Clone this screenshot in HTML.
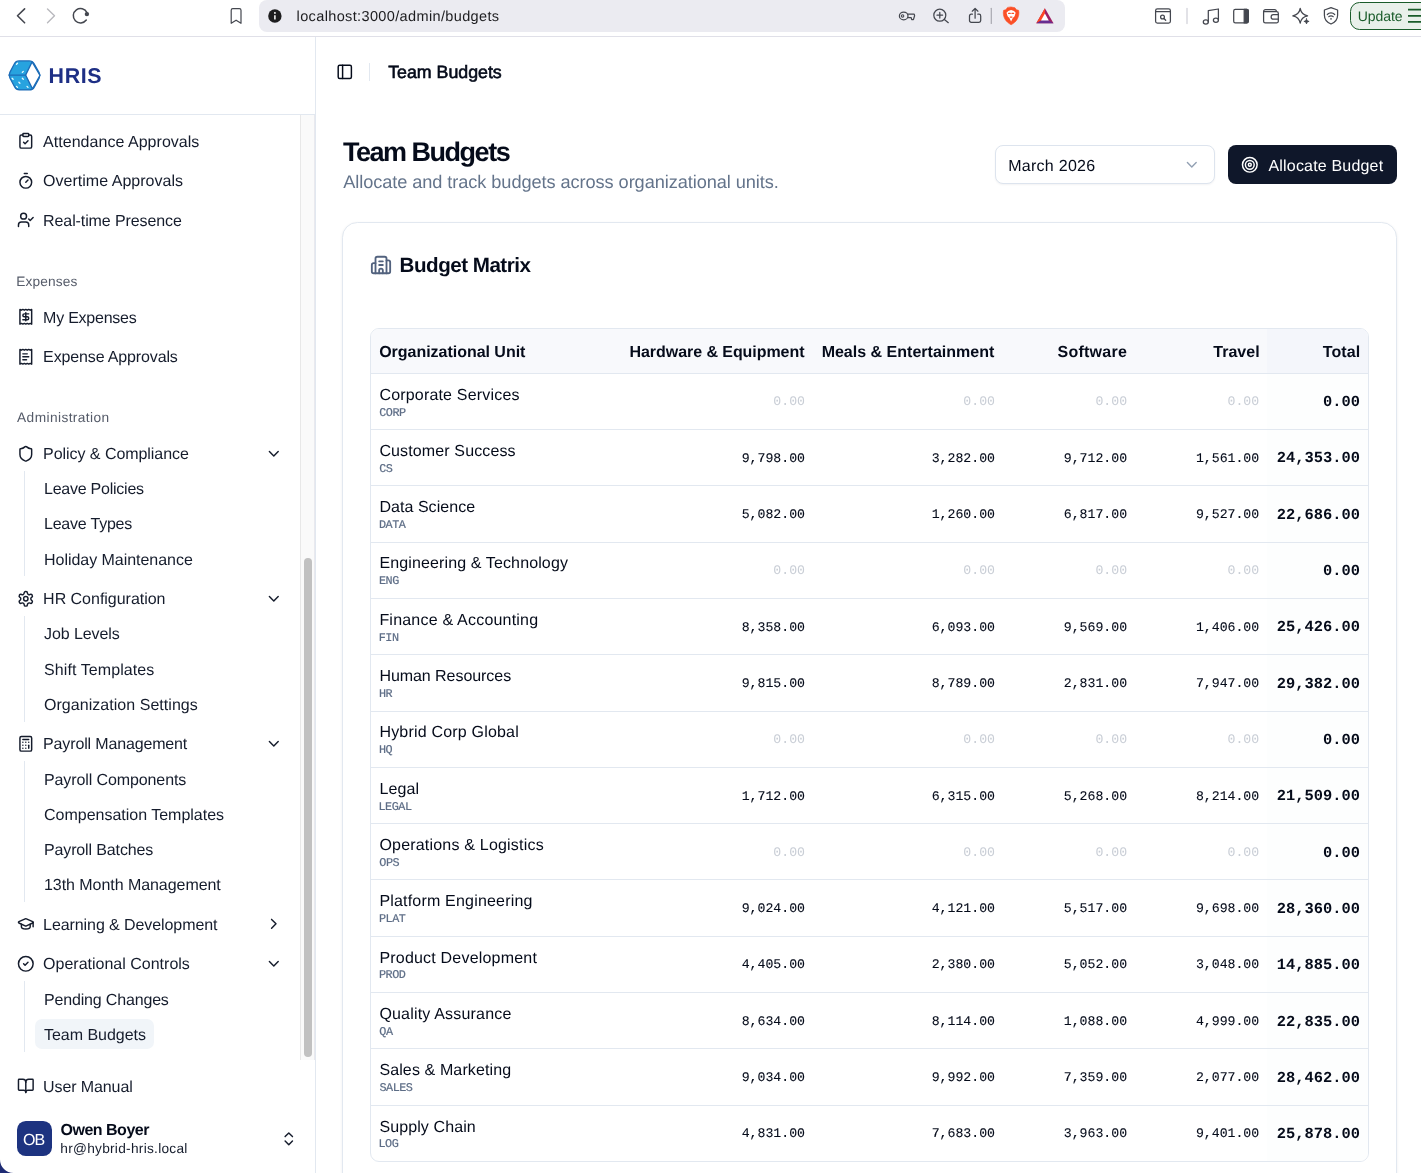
<!DOCTYPE html>
<html lang="en">
<head>
<meta charset="utf-8">
<title>Team Budgets</title>
<style>
*{box-sizing:border-box;margin:0;padding:0}
html,body{width:1421px;height:1173px;overflow:hidden;background:#fff}
body{position:relative;font-family:"Liberation Sans",sans-serif;color:#0f172a;text-rendering:geometricPrecision}
.abs{position:absolute}
svg{display:block}
.x{position:absolute;white-space:nowrap}
</style>
</head>
<body>
<main>
<svg class="abs" style="left:335.9px;top:62.7px" width="17.6" height="17.6" viewBox="0 0 24 24" fill="none" stroke="#050b1a" stroke-width="2" stroke-linecap="round" stroke-linejoin="round" ><rect width="18" height="18" x="3" y="3" rx="2"/><path d="M9 3v18"/></svg>
<div class="abs" style="left:369px;top:63px;width:1px;height:18px;background:#e2e8f0"></div>
<div class="abs" style="left:995px;top:145px;width:220px;height:39px;border:1px solid #dde4ee;border-radius:8px;background:#fff;box-shadow:0 1px 2px rgba(15,23,42,.05)"></div>
<svg class="abs" style="left:1183.0px;top:156.2px" width="17.6" height="17.6" viewBox="0 0 24 24" fill="none" stroke="#92a0b3" stroke-width="1.9" stroke-linecap="round" stroke-linejoin="round" ><path d="m6 9 6 6 6-6"/></svg>
<div class="abs" style="left:1228px;top:145px;width:169px;height:39px;background:#0f172a;border-radius:8px"></div>
<svg class="abs" style="left:1241.0px;top:156.2px" width="17.6" height="17.6" viewBox="0 0 24 24" fill="none" stroke="#ffffff" stroke-width="2" stroke-linecap="round" stroke-linejoin="round" ><circle cx="12" cy="12" r="10"/><circle cx="12" cy="12" r="6"/><circle cx="12" cy="12" r="2"/></svg>
<div class="abs" style="left:342px;top:222px;width:1055px;height:980px;border:1px solid #e2e8f0;border-radius:15.4px;background:#fff;box-shadow:0 1px 3px rgba(15,23,42,.07),0 1px 2px -1px rgba(15,23,42,.07)"></div>
<svg class="abs" style="left:370.0px;top:253.9px" width="22" height="22" viewBox="0 0 24 24" fill="none" stroke="#52627e" stroke-width="2" stroke-linecap="round" stroke-linejoin="round" ><path d="M10 12h4"/><path d="M10 8h4"/><path d="M14 21v-3a2 2 0 0 0-4 0v3"/><path d="M6 10H4a2 2 0 0 0-2 2v7a2 2 0 0 0 2 2h16a2 2 0 0 0 2-2V9a2 2 0 0 0-2-2h-2"/><path d="M6 21V5a2 2 0 0 1 2-2h8a2 2 0 0 1 2 2v16"/></svg>
<div class="abs" style="left:370px;top:328px;width:999px;height:834px;border:1px solid #e2e8f0;border-radius:9px;background:#fff;overflow:hidden"></div>
<div class="abs" style="left:371px;top:329px;width:997px;height:44px;background:#f8f9fc;border-radius:8px 8px 0 0"></div>
<div class="abs" style="left:1267px;top:329px;width:101px;height:44px;background:#f4f6fb;border-radius:0 8px 0 0"></div>
<div class="abs" style="left:1267px;top:374px;width:101px;height:787px;background:#fdfefe;border-radius:0 0 8px 0"></div>
<div class="abs" style="left:371px;top:373px;width:997px;height:1px;background:#e2e8f0"></div>
<div class="abs" style="left:371px;top:429px;width:997px;height:1px;background:#e2e8f0"></div>
<div class="abs" style="left:371px;top:485px;width:997px;height:1px;background:#e2e8f0"></div>
<div class="abs" style="left:371px;top:542px;width:997px;height:1px;background:#e2e8f0"></div>
<div class="abs" style="left:371px;top:598px;width:997px;height:1px;background:#e2e8f0"></div>
<div class="abs" style="left:371px;top:654px;width:997px;height:1px;background:#e2e8f0"></div>
<div class="abs" style="left:371px;top:711px;width:997px;height:1px;background:#e2e8f0"></div>
<div class="abs" style="left:371px;top:767px;width:997px;height:1px;background:#e2e8f0"></div>
<div class="abs" style="left:371px;top:823px;width:997px;height:1px;background:#e2e8f0"></div>
<div class="abs" style="left:371px;top:879px;width:997px;height:1px;background:#e2e8f0"></div>
<div class="abs" style="left:371px;top:936px;width:997px;height:1px;background:#e2e8f0"></div>
<div class="abs" style="left:371px;top:992px;width:997px;height:1px;background:#e2e8f0"></div>
<div class="abs" style="left:371px;top:1048px;width:997px;height:1px;background:#e2e8f0"></div>
<div class="abs" style="left:371px;top:1105px;width:997px;height:1px;background:#e2e8f0"></div>
<div class="x" style="left:388.20px;top:64px;font:400 17.8px/1 'Liberation Sans',sans-serif;color:#050b1a;letter-spacing:-0.012px;-webkit-text-stroke:0.6px #050b1a">Team Budgets</div>
<div class="x" style="left:342.90px;top:139px;font:700 27px/1 'Liberation Sans',sans-serif;color:#050b1a;letter-spacing:-1.475px">Team Budgets</div>
<div class="x" style="left:343.16px;top:173px;font:400 18.2px/1 'Liberation Sans',sans-serif;color:#64748b;letter-spacing:-0.076px">Allocate and track budgets across organizational units.</div>
<div class="x" style="left:1008.19px;top:159px;font:400 16px/1 'Liberation Sans',sans-serif;color:#050b1a;letter-spacing:0.280px">March 2026</div>
<div class="x" style="left:1268.47px;top:159px;font:400 16px/1 'Liberation Sans',sans-serif;color:#ffffff;letter-spacing:0.184px">Allocate Budget</div>
<div class="x" style="left:399.62px;top:256px;font:700 20.6px/1 'Liberation Sans',sans-serif;color:#050b1a;letter-spacing:-0.499px">Budget Matrix</div>
<div class="x" style="left:379.14px;top:345px;font:700 16px/1 'Liberation Sans',sans-serif;color:#050b1a;letter-spacing:-0.023px">Organizational Unit</div>
<div class="x" style="left:629.53px;top:345px;font:700 16px/1 'Liberation Sans',sans-serif;color:#050b1a;letter-spacing:-0.056px">Hardware &amp; Equipment</div>
<div class="x" style="left:821.63px;top:345px;font:700 16px/1 'Liberation Sans',sans-serif;color:#050b1a;letter-spacing:0.009px">Meals &amp; Entertainment</div>
<div class="x" style="left:1057.54px;top:345px;font:700 16px/1 'Liberation Sans',sans-serif;color:#050b1a;letter-spacing:0.247px">Software</div>
<div class="x" style="left:1213.22px;top:345px;font:700 16px/1 'Liberation Sans',sans-serif;color:#050b1a;letter-spacing:0.029px">Travel</div>
<div class="x" style="left:1322.82px;top:345px;font:700 16px/1 'Liberation Sans',sans-serif;color:#050b1a;letter-spacing:0.095px">Total</div>
<div class="x" style="left:379.40px;top:388px;font:400 16px/1 'Liberation Sans',sans-serif;color:#050b1a;letter-spacing:0.184px">Corporate Services</div>
<div class="x" style="left:379.25px;top:408px;font:400 11.8px/1 'Liberation Mono',monospace;color:#5d6d86;letter-spacing:-0.480px;-webkit-text-stroke:0.2px #5d6d86">CORP</div>
<div class="x" style="left:773.36px;top:395px;font:400 13.2px/1 'Liberation Mono',monospace;color:#c9ced6">0.00</div>
<div class="x" style="left:963.36px;top:395px;font:400 13.2px/1 'Liberation Mono',monospace;color:#c9ced6">0.00</div>
<div class="x" style="left:1095.46px;top:395px;font:400 13.2px/1 'Liberation Mono',monospace;color:#c9ced6">0.00</div>
<div class="x" style="left:1227.56px;top:395px;font:400 13.2px/1 'Liberation Mono',monospace;color:#c9ced6">0.00</div>
<div class="x" style="left:1322.93px;top:395px;font:700 15.4px/1 'Liberation Mono',monospace;color:#050b1a">0.00</div>
<div class="x" style="left:379.40px;top:444px;font:400 16px/1 'Liberation Sans',sans-serif;color:#050b1a;letter-spacing:0.128px">Customer Success</div>
<div class="x" style="left:379.25px;top:464px;font:400 11.8px/1 'Liberation Mono',monospace;color:#5d6d86;letter-spacing:-0.480px;-webkit-text-stroke:0.2px #5d6d86">CS</div>
<div class="x" style="left:741.70px;top:452px;font:400 13.2px/1 'Liberation Mono',monospace;color:#050b1a;-webkit-text-stroke:0.1px #050b1a">9,798.00</div>
<div class="x" style="left:931.70px;top:452px;font:400 13.2px/1 'Liberation Mono',monospace;color:#050b1a;-webkit-text-stroke:0.1px #050b1a">3,282.00</div>
<div class="x" style="left:1063.80px;top:452px;font:400 13.2px/1 'Liberation Mono',monospace;color:#050b1a;-webkit-text-stroke:0.1px #050b1a">9,712.00</div>
<div class="x" style="left:1195.90px;top:452px;font:400 13.2px/1 'Liberation Mono',monospace;color:#050b1a;-webkit-text-stroke:0.1px #050b1a">1,561.00</div>
<div class="x" style="left:1276.76px;top:451px;font:700 15.4px/1 'Liberation Mono',monospace;color:#050b1a">24,353.00</div>
<div class="x" style="left:379.40px;top:500px;font:400 16px/1 'Liberation Sans',sans-serif;color:#050b1a;letter-spacing:0.049px">Data Science</div>
<div class="x" style="left:378.97px;top:520px;font:400 11.8px/1 'Liberation Mono',monospace;color:#5d6d86;letter-spacing:-0.480px;-webkit-text-stroke:0.2px #5d6d86">DATA</div>
<div class="x" style="left:741.70px;top:508px;font:400 13.2px/1 'Liberation Mono',monospace;color:#050b1a;-webkit-text-stroke:0.1px #050b1a">5,082.00</div>
<div class="x" style="left:931.70px;top:508px;font:400 13.2px/1 'Liberation Mono',monospace;color:#050b1a;-webkit-text-stroke:0.1px #050b1a">1,260.00</div>
<div class="x" style="left:1063.80px;top:508px;font:400 13.2px/1 'Liberation Mono',monospace;color:#050b1a;-webkit-text-stroke:0.1px #050b1a">6,817.00</div>
<div class="x" style="left:1195.90px;top:508px;font:400 13.2px/1 'Liberation Mono',monospace;color:#050b1a;-webkit-text-stroke:0.1px #050b1a">9,527.00</div>
<div class="x" style="left:1276.76px;top:508px;font:700 15.4px/1 'Liberation Mono',monospace;color:#050b1a">22,686.00</div>
<div class="x" style="left:379.40px;top:556px;font:400 16px/1 'Liberation Sans',sans-serif;color:#050b1a;letter-spacing:0.126px">Engineering &amp; Technology</div>
<div class="x" style="left:378.97px;top:576px;font:400 11.8px/1 'Liberation Mono',monospace;color:#5d6d86;letter-spacing:-0.480px;-webkit-text-stroke:0.2px #5d6d86">ENG</div>
<div class="x" style="left:773.36px;top:564px;font:400 13.2px/1 'Liberation Mono',monospace;color:#c9ced6">0.00</div>
<div class="x" style="left:963.36px;top:564px;font:400 13.2px/1 'Liberation Mono',monospace;color:#c9ced6">0.00</div>
<div class="x" style="left:1095.46px;top:564px;font:400 13.2px/1 'Liberation Mono',monospace;color:#c9ced6">0.00</div>
<div class="x" style="left:1227.56px;top:564px;font:400 13.2px/1 'Liberation Mono',monospace;color:#c9ced6">0.00</div>
<div class="x" style="left:1322.93px;top:564px;font:700 15.4px/1 'Liberation Mono',monospace;color:#050b1a">0.00</div>
<div class="x" style="left:379.40px;top:613px;font:400 16px/1 'Liberation Sans',sans-serif;color:#050b1a;letter-spacing:0.209px">Finance &amp; Accounting</div>
<div class="x" style="left:378.78px;top:633px;font:400 11.8px/1 'Liberation Mono',monospace;color:#5d6d86;letter-spacing:-0.480px;-webkit-text-stroke:0.2px #5d6d86">FIN</div>
<div class="x" style="left:741.70px;top:621px;font:400 13.2px/1 'Liberation Mono',monospace;color:#050b1a;-webkit-text-stroke:0.1px #050b1a">8,358.00</div>
<div class="x" style="left:931.70px;top:621px;font:400 13.2px/1 'Liberation Mono',monospace;color:#050b1a;-webkit-text-stroke:0.1px #050b1a">6,093.00</div>
<div class="x" style="left:1063.80px;top:621px;font:400 13.2px/1 'Liberation Mono',monospace;color:#050b1a;-webkit-text-stroke:0.1px #050b1a">9,569.00</div>
<div class="x" style="left:1195.90px;top:621px;font:400 13.2px/1 'Liberation Mono',monospace;color:#050b1a;-webkit-text-stroke:0.1px #050b1a">1,406.00</div>
<div class="x" style="left:1276.76px;top:620px;font:700 15.4px/1 'Liberation Mono',monospace;color:#050b1a">25,426.00</div>
<div class="x" style="left:379.40px;top:669px;font:400 16px/1 'Liberation Sans',sans-serif;color:#050b1a;letter-spacing:-0.052px">Human Resources</div>
<div class="x" style="left:378.97px;top:689px;font:400 11.8px/1 'Liberation Mono',monospace;color:#5d6d86;letter-spacing:-0.480px;-webkit-text-stroke:0.2px #5d6d86">HR</div>
<div class="x" style="left:741.70px;top:677px;font:400 13.2px/1 'Liberation Mono',monospace;color:#050b1a;-webkit-text-stroke:0.1px #050b1a">9,815.00</div>
<div class="x" style="left:931.70px;top:677px;font:400 13.2px/1 'Liberation Mono',monospace;color:#050b1a;-webkit-text-stroke:0.1px #050b1a">8,789.00</div>
<div class="x" style="left:1063.80px;top:677px;font:400 13.2px/1 'Liberation Mono',monospace;color:#050b1a;-webkit-text-stroke:0.1px #050b1a">2,831.00</div>
<div class="x" style="left:1195.90px;top:677px;font:400 13.2px/1 'Liberation Mono',monospace;color:#050b1a;-webkit-text-stroke:0.1px #050b1a">7,947.00</div>
<div class="x" style="left:1276.76px;top:677px;font:700 15.4px/1 'Liberation Mono',monospace;color:#050b1a">29,382.00</div>
<div class="x" style="left:379.40px;top:725px;font:400 16px/1 'Liberation Sans',sans-serif;color:#050b1a;letter-spacing:0.195px">Hybrid Corp Global</div>
<div class="x" style="left:378.97px;top:745px;font:400 11.8px/1 'Liberation Mono',monospace;color:#5d6d86;letter-spacing:-0.480px;-webkit-text-stroke:0.2px #5d6d86">HQ</div>
<div class="x" style="left:773.36px;top:733px;font:400 13.2px/1 'Liberation Mono',monospace;color:#c9ced6">0.00</div>
<div class="x" style="left:963.36px;top:733px;font:400 13.2px/1 'Liberation Mono',monospace;color:#c9ced6">0.00</div>
<div class="x" style="left:1095.46px;top:733px;font:400 13.2px/1 'Liberation Mono',monospace;color:#c9ced6">0.00</div>
<div class="x" style="left:1227.56px;top:733px;font:400 13.2px/1 'Liberation Mono',monospace;color:#c9ced6">0.00</div>
<div class="x" style="left:1322.93px;top:733px;font:700 15.4px/1 'Liberation Mono',monospace;color:#050b1a">0.00</div>
<div class="x" style="left:379.40px;top:782px;font:400 16px/1 'Liberation Sans',sans-serif;color:#050b1a;letter-spacing:0.129px">Legal</div>
<div class="x" style="left:378.53px;top:802px;font:400 11.8px/1 'Liberation Mono',monospace;color:#5d6d86;letter-spacing:-0.480px;-webkit-text-stroke:0.2px #5d6d86">LEGAL</div>
<div class="x" style="left:741.70px;top:790px;font:400 13.2px/1 'Liberation Mono',monospace;color:#050b1a;-webkit-text-stroke:0.1px #050b1a">1,712.00</div>
<div class="x" style="left:931.70px;top:790px;font:400 13.2px/1 'Liberation Mono',monospace;color:#050b1a;-webkit-text-stroke:0.1px #050b1a">6,315.00</div>
<div class="x" style="left:1063.80px;top:790px;font:400 13.2px/1 'Liberation Mono',monospace;color:#050b1a;-webkit-text-stroke:0.1px #050b1a">5,268.00</div>
<div class="x" style="left:1195.90px;top:790px;font:400 13.2px/1 'Liberation Mono',monospace;color:#050b1a;-webkit-text-stroke:0.1px #050b1a">8,214.00</div>
<div class="x" style="left:1276.76px;top:789px;font:700 15.4px/1 'Liberation Mono',monospace;color:#050b1a">21,509.00</div>
<div class="x" style="left:379.40px;top:838px;font:400 16px/1 'Liberation Sans',sans-serif;color:#050b1a;letter-spacing:0.200px">Operations &amp; Logistics</div>
<div class="x" style="left:379.31px;top:858px;font:400 11.8px/1 'Liberation Mono',monospace;color:#5d6d86;letter-spacing:-0.480px;-webkit-text-stroke:0.2px #5d6d86">OPS</div>
<div class="x" style="left:773.36px;top:846px;font:400 13.2px/1 'Liberation Mono',monospace;color:#c9ced6">0.00</div>
<div class="x" style="left:963.36px;top:846px;font:400 13.2px/1 'Liberation Mono',monospace;color:#c9ced6">0.00</div>
<div class="x" style="left:1095.46px;top:846px;font:400 13.2px/1 'Liberation Mono',monospace;color:#c9ced6">0.00</div>
<div class="x" style="left:1227.56px;top:846px;font:400 13.2px/1 'Liberation Mono',monospace;color:#c9ced6">0.00</div>
<div class="x" style="left:1322.93px;top:846px;font:700 15.4px/1 'Liberation Mono',monospace;color:#050b1a">0.00</div>
<div class="x" style="left:379.40px;top:894px;font:400 16px/1 'Liberation Sans',sans-serif;color:#050b1a;letter-spacing:0.190px">Platform Engineering</div>
<div class="x" style="left:378.97px;top:914px;font:400 11.8px/1 'Liberation Mono',monospace;color:#5d6d86;letter-spacing:-0.480px;-webkit-text-stroke:0.2px #5d6d86">PLAT</div>
<div class="x" style="left:741.70px;top:902px;font:400 13.2px/1 'Liberation Mono',monospace;color:#050b1a;-webkit-text-stroke:0.1px #050b1a">9,024.00</div>
<div class="x" style="left:931.70px;top:902px;font:400 13.2px/1 'Liberation Mono',monospace;color:#050b1a;-webkit-text-stroke:0.1px #050b1a">4,121.00</div>
<div class="x" style="left:1063.80px;top:902px;font:400 13.2px/1 'Liberation Mono',monospace;color:#050b1a;-webkit-text-stroke:0.1px #050b1a">5,517.00</div>
<div class="x" style="left:1195.90px;top:902px;font:400 13.2px/1 'Liberation Mono',monospace;color:#050b1a;-webkit-text-stroke:0.1px #050b1a">9,698.00</div>
<div class="x" style="left:1276.76px;top:902px;font:700 15.4px/1 'Liberation Mono',monospace;color:#050b1a">28,360.00</div>
<div class="x" style="left:379.40px;top:951px;font:400 16px/1 'Liberation Sans',sans-serif;color:#050b1a;letter-spacing:0.203px">Product Development</div>
<div class="x" style="left:378.97px;top:970px;font:400 11.8px/1 'Liberation Mono',monospace;color:#5d6d86;letter-spacing:-0.480px;-webkit-text-stroke:0.2px #5d6d86">PROD</div>
<div class="x" style="left:741.70px;top:958px;font:400 13.2px/1 'Liberation Mono',monospace;color:#050b1a;-webkit-text-stroke:0.1px #050b1a">4,405.00</div>
<div class="x" style="left:931.70px;top:958px;font:400 13.2px/1 'Liberation Mono',monospace;color:#050b1a;-webkit-text-stroke:0.1px #050b1a">2,380.00</div>
<div class="x" style="left:1063.80px;top:958px;font:400 13.2px/1 'Liberation Mono',monospace;color:#050b1a;-webkit-text-stroke:0.1px #050b1a">5,052.00</div>
<div class="x" style="left:1195.90px;top:958px;font:400 13.2px/1 'Liberation Mono',monospace;color:#050b1a;-webkit-text-stroke:0.1px #050b1a">3,048.00</div>
<div class="x" style="left:1276.76px;top:958px;font:700 15.4px/1 'Liberation Mono',monospace;color:#050b1a">14,885.00</div>
<div class="x" style="left:379.40px;top:1007px;font:400 16px/1 'Liberation Sans',sans-serif;color:#050b1a;letter-spacing:0.185px">Quality Assurance</div>
<div class="x" style="left:379.31px;top:1027px;font:400 11.8px/1 'Liberation Mono',monospace;color:#5d6d86;letter-spacing:-0.480px;-webkit-text-stroke:0.2px #5d6d86">QA</div>
<div class="x" style="left:741.70px;top:1015px;font:400 13.2px/1 'Liberation Mono',monospace;color:#050b1a;-webkit-text-stroke:0.1px #050b1a">8,634.00</div>
<div class="x" style="left:931.70px;top:1015px;font:400 13.2px/1 'Liberation Mono',monospace;color:#050b1a;-webkit-text-stroke:0.1px #050b1a">8,114.00</div>
<div class="x" style="left:1063.80px;top:1015px;font:400 13.2px/1 'Liberation Mono',monospace;color:#050b1a;-webkit-text-stroke:0.1px #050b1a">1,088.00</div>
<div class="x" style="left:1195.90px;top:1015px;font:400 13.2px/1 'Liberation Mono',monospace;color:#050b1a;-webkit-text-stroke:0.1px #050b1a">4,999.00</div>
<div class="x" style="left:1276.76px;top:1015px;font:700 15.4px/1 'Liberation Mono',monospace;color:#050b1a">22,835.00</div>
<div class="x" style="left:379.40px;top:1063px;font:400 16px/1 'Liberation Sans',sans-serif;color:#050b1a;letter-spacing:0.118px">Sales &amp; Marketing</div>
<div class="x" style="left:379.44px;top:1083px;font:400 11.8px/1 'Liberation Mono',monospace;color:#5d6d86;letter-spacing:-0.480px;-webkit-text-stroke:0.2px #5d6d86">SALES</div>
<div class="x" style="left:741.70px;top:1071px;font:400 13.2px/1 'Liberation Mono',monospace;color:#050b1a;-webkit-text-stroke:0.1px #050b1a">9,034.00</div>
<div class="x" style="left:931.70px;top:1071px;font:400 13.2px/1 'Liberation Mono',monospace;color:#050b1a;-webkit-text-stroke:0.1px #050b1a">9,992.00</div>
<div class="x" style="left:1063.80px;top:1071px;font:400 13.2px/1 'Liberation Mono',monospace;color:#050b1a;-webkit-text-stroke:0.1px #050b1a">7,359.00</div>
<div class="x" style="left:1195.90px;top:1071px;font:400 13.2px/1 'Liberation Mono',monospace;color:#050b1a;-webkit-text-stroke:0.1px #050b1a">2,077.00</div>
<div class="x" style="left:1276.76px;top:1071px;font:700 15.4px/1 'Liberation Mono',monospace;color:#050b1a">28,462.00</div>
<div class="x" style="left:379.40px;top:1120px;font:400 16px/1 'Liberation Sans',sans-serif;color:#050b1a;letter-spacing:0.106px">Supply Chain</div>
<div class="x" style="left:378.53px;top:1139px;font:400 11.8px/1 'Liberation Mono',monospace;color:#5d6d86;letter-spacing:-0.480px;-webkit-text-stroke:0.2px #5d6d86">LOG</div>
<div class="x" style="left:741.70px;top:1127px;font:400 13.2px/1 'Liberation Mono',monospace;color:#050b1a;-webkit-text-stroke:0.1px #050b1a">4,831.00</div>
<div class="x" style="left:931.70px;top:1127px;font:400 13.2px/1 'Liberation Mono',monospace;color:#050b1a;-webkit-text-stroke:0.1px #050b1a">7,683.00</div>
<div class="x" style="left:1063.80px;top:1127px;font:400 13.2px/1 'Liberation Mono',monospace;color:#050b1a;-webkit-text-stroke:0.1px #050b1a">3,963.00</div>
<div class="x" style="left:1195.90px;top:1127px;font:400 13.2px/1 'Liberation Mono',monospace;color:#050b1a;-webkit-text-stroke:0.1px #050b1a">9,401.00</div>
<div class="x" style="left:1276.76px;top:1127px;font:700 15.4px/1 'Liberation Mono',monospace;color:#050b1a">25,878.00</div>
</main>
<aside>
<svg class="abs" style="left:0;top:50px" width="60" height="50" viewBox="0 50 60 50" stroke-linejoin="round" stroke-linecap="round">
<path d="M9.90 78.03Q8.40 75.20 9.89 72.37L14.41 63.73Q15.90 60.90 19.10 60.90L29.20 60.90Q32.40 60.90 34.00 63.67L39.10 72.53Q40.70 75.30 39.16 78.11L34.24 87.09Q32.70 89.90 29.50 89.90L19.40 89.90Q16.20 89.90 14.70 87.07Z" fill="#27a3df" stroke="#1c6cb8" stroke-width="1.3"/>
<path d="M25.6 75.1L32.1 61.9L40.0 75.3L32.5 88.9Z" fill="#fff" stroke="#1c6cb8" stroke-width="1.3"/>
<path d="M9.0 75.1H25.6" stroke="#1c6cb8" stroke-width="1.4"/>
<path d="M16.5 64.3 17.5 63.3M22.3 72.4 23.3 71.4M12.100 78.300 13.100 79.300M22.300 78.300 23.300 79.300M18.900 82.300 19.900 83.300M16.500 86.400 17.500 87.400M27.000 86.400 28.000 87.400" stroke="#e8fbff" stroke-width="1.3"/>
</svg>
<div class="abs" style="left:315px;top:37px;width:1px;height:1136px;background:#e2e8f0"></div>
<div class="abs" style="left:0px;top:114px;width:315px;height:1px;background:#e2e8f0"></div>
<div class="abs" style="left:300px;top:115px;width:15px;height:945px;background:#fafafa;border-left:1px solid #e8e8e8;border-right:1px solid #e9e9ee"></div>
<div class="abs" style="left:304px;top:558px;width:8px;height:499px;background:#c1c1c1;border-radius:4px"></div>
<div class="abs" style="left:24px;top:471px;width:1px;height:105px;background:#e2e8f0"></div>
<div class="abs" style="left:24px;top:616px;width:1px;height:106px;background:#e2e8f0"></div>
<div class="abs" style="left:24px;top:761px;width:1px;height:141px;background:#e2e8f0"></div>
<div class="abs" style="left:24px;top:981px;width:1px;height:71px;background:#e2e8f0"></div>
<div class="abs" style="left:35px;top:1018.5px;width:118.5px;height:30.5px;background:#f1f5f9;border-radius:7px"></div>
<svg class="abs" style="left:17.0px;top:132.2px" width="17.6" height="17.6" viewBox="0 0 24 24" fill="none" stroke="#151c2c" stroke-width="2" stroke-linecap="round" stroke-linejoin="round" ><rect width="8" height="4" x="8" y="2" rx="1" ry="1"/><path d="M16 4h2a2 2 0 0 1 2 2v14a2 2 0 0 1-2 2H6a2 2 0 0 1-2-2V6a2 2 0 0 1 2-2h2"/><path d="m9 14 2 2 4-4"/></svg>
<svg class="abs" style="left:17.0px;top:171.8px" width="17.6" height="17.6" viewBox="0 0 24 24" fill="none" stroke="#151c2c" stroke-width="2" stroke-linecap="round" stroke-linejoin="round" ><line x1="10" x2="14" y1="2" y2="2"/><line x1="12" x2="15" y1="14" y2="11"/><circle cx="12" cy="14" r="8"/></svg>
<svg class="abs" style="left:17.0px;top:211.4px" width="17.6" height="17.6" viewBox="0 0 24 24" fill="none" stroke="#151c2c" stroke-width="2" stroke-linecap="round" stroke-linejoin="round" ><path d="M16 21v-2a4 4 0 0 0-4-4H6a4 4 0 0 0-4 4v2"/><circle cx="9" cy="7" r="4"/><polyline points="16 11 18 13 22 9"/></svg>
<svg class="abs" style="left:17.0px;top:308.2px" width="17.6" height="17.6" viewBox="0 0 24 24" fill="none" stroke="#151c2c" stroke-width="2" stroke-linecap="round" stroke-linejoin="round" ><path d="M4 2v20l2-1 2 1 2-1 2 1 2-1 2 1 2-1 2 1V2l-2 1-2-1-2 1-2-1-2 1-2-1-2 1Z"/><path d="M16 8h-6a2 2 0 1 0 0 4h4a2 2 0 1 1 0 4H8"/><path d="M12 17.5v-11"/></svg>
<svg class="abs" style="left:17.0px;top:347.8px" width="17.6" height="17.6" viewBox="0 0 24 24" fill="none" stroke="#151c2c" stroke-width="2" stroke-linecap="round" stroke-linejoin="round" ><path d="M4 2v20l2-1 2 1 2-1 2 1 2-1 2 1 2-1 2 1V2l-2 1-2-1-2 1-2-1-2 1-2-1-2 1Z"/><path d="M14 8H8"/><path d="M16 12H8"/><path d="M13 16H8"/></svg>
<svg class="abs" style="left:17.0px;top:444.6px" width="17.6" height="17.6" viewBox="0 0 24 24" fill="none" stroke="#151c2c" stroke-width="2" stroke-linecap="round" stroke-linejoin="round" ><path d="M20 13c0 5-3.5 7.5-7.66 8.95a1 1 0 0 1-.67-.01C7.5 20.5 4 18 4 13V6a1 1 0 0 1 1-1c2 0 4.5-1.2 6.24-2.72a1.17 1.17 0 0 1 1.52 0C14.51 3.81 17 5 19 5a1 1 0 0 1 1 1z"/></svg>
<svg class="abs" style="left:265.2px;top:444.6px" width="17.6" height="17.6" viewBox="0 0 24 24" fill="none" stroke="#151c2c" stroke-width="2" stroke-linecap="round" stroke-linejoin="round" ><path d="m6 9 6 6 6-6"/></svg>
<svg class="abs" style="left:17.0px;top:589.8px" width="17.6" height="17.6" viewBox="0 0 24 24" fill="none" stroke="#151c2c" stroke-width="2" stroke-linecap="round" stroke-linejoin="round" ><path d="M12.22 2h-.44a2 2 0 0 0-2 2v.18a2 2 0 0 1-1 1.73l-.43.25a2 2 0 0 1-2 0l-.15-.08a2 2 0 0 0-2.73.73l-.22.38a2 2 0 0 0 .73 2.73l.15.1a2 2 0 0 1 1 1.72v.51a2 2 0 0 1-1 1.74l-.15.09a2 2 0 0 0-.73 2.73l.22.38a2 2 0 0 0 2.73.73l.15-.08a2 2 0 0 1 2 0l.43.25a2 2 0 0 1 1 1.73V20a2 2 0 0 0 2 2h.44a2 2 0 0 0 2-2v-.18a2 2 0 0 1 1-1.73l.43-.25a2 2 0 0 1 2 0l.15.08a2 2 0 0 0 2.73-.73l.22-.39a2 2 0 0 0-.73-2.73l-.15-.08a2 2 0 0 1-1-1.74v-.5a2 2 0 0 1 1-1.74l.15-.09a2 2 0 0 0 .73-2.73l-.22-.38a2 2 0 0 0-2.73-.73l-.15.08a2 2 0 0 1-2 0l-.43-.25a2 2 0 0 1-1-1.73V4a2 2 0 0 0-2-2z"/><circle cx="12" cy="12" r="3"/></svg>
<svg class="abs" style="left:265.2px;top:589.8px" width="17.6" height="17.6" viewBox="0 0 24 24" fill="none" stroke="#151c2c" stroke-width="2" stroke-linecap="round" stroke-linejoin="round" ><path d="m6 9 6 6 6-6"/></svg>
<svg class="abs" style="left:17.0px;top:735.0px" width="17.6" height="17.6" viewBox="0 0 24 24" fill="none" stroke="#151c2c" stroke-width="2" stroke-linecap="round" stroke-linejoin="round" ><rect width="16" height="20" x="4" y="2" rx="2"/><line x1="8" x2="16" y1="6" y2="6"/><line x1="16" x2="16" y1="14" y2="18"/><path d="M16 10h.01"/><path d="M12 10h.01"/><path d="M8 10h.01"/><path d="M12 14h.01"/><path d="M8 14h.01"/><path d="M12 18h.01"/><path d="M8 18h.01"/></svg>
<svg class="abs" style="left:265.2px;top:735.0px" width="17.6" height="17.6" viewBox="0 0 24 24" fill="none" stroke="#151c2c" stroke-width="2" stroke-linecap="round" stroke-linejoin="round" ><path d="m6 9 6 6 6-6"/></svg>
<svg class="abs" style="left:17.0px;top:915.4px" width="17.6" height="17.6" viewBox="0 0 24 24" fill="none" stroke="#151c2c" stroke-width="2" stroke-linecap="round" stroke-linejoin="round" ><path d="M21.42 10.922a1 1 0 0 0-.019-1.838L12.83 5.18a2 2 0 0 0-1.66 0L2.6 9.08a1 1 0 0 0 0 1.832l8.57 3.908a2 2 0 0 0 1.66 0z"/><path d="M22 10v6"/><path d="M6 12.5V16a6 3 0 0 0 12 0v-3.500"/></svg>
<svg class="abs" style="left:265.2px;top:915.4px" width="17.6" height="17.6" viewBox="0 0 24 24" fill="none" stroke="#151c2c" stroke-width="2" stroke-linecap="round" stroke-linejoin="round" ><path d="m9 18 6-6-6-6"/></svg>
<svg class="abs" style="left:17.0px;top:955.0px" width="17.6" height="17.6" viewBox="0 0 24 24" fill="none" stroke="#151c2c" stroke-width="2" stroke-linecap="round" stroke-linejoin="round" ><circle cx="12" cy="12" r="10"/><path d="m9 12 2 2 4-4"/></svg>
<svg class="abs" style="left:265.2px;top:955.0px" width="17.6" height="17.6" viewBox="0 0 24 24" fill="none" stroke="#151c2c" stroke-width="2" stroke-linecap="round" stroke-linejoin="round" ><path d="m6 9 6 6 6-6"/></svg>
<svg class="abs" style="left:17.0px;top:1077.2px" width="17.6" height="17.6" viewBox="0 0 24 24" fill="none" stroke="#151c2c" stroke-width="2" stroke-linecap="round" stroke-linejoin="round" ><path d="M12 7v14"/><path d="M3 18a1 1 0 0 1-1-1V4a1 1 0 0 1 1-1h5a4 4 0 0 1 4 4 4 4 0 0 1 4-4h5a1 1 0 0 1 1 1v13a1 1 0 0 1-1 1h-6a3 3 0 0 0-3 3 3 3 0 0 0-3-3z"/></svg>
<div class="abs" style="left:17px;top:1121px;width:35px;height:35px;background:#1d3380;border-radius:8.8px"></div>
<svg class="abs" style="left:279.9px;top:1129.9px" width="17.6" height="17.6" viewBox="0 0 24 24" fill="none" stroke="#151c2c" stroke-width="2" stroke-linecap="round" stroke-linejoin="round" ><path d="m7 15 5 5 5-5"/><path d="m7 9 5-5 5 5"/></svg>
<svg class="abs" style="left:0;top:1159px" width="14" height="14" viewBox="0 0 14 14"><path d="M0 0.500A13.500 13.500 0 0 0 13.500 14H0Z" fill="#1e2b74"/></svg>
<div class="x" style="left:43.10px;top:135px;font:400 16px/1 'Liberation Sans',sans-serif;color:#151c2c;letter-spacing:0.032px">Attendance Approvals</div>
<div class="x" style="left:43.10px;top:174px;font:400 16px/1 'Liberation Sans',sans-serif;color:#151c2c;letter-spacing:0.016px">Overtime Approvals</div>
<div class="x" style="left:43.10px;top:214px;font:400 16px/1 'Liberation Sans',sans-serif;color:#151c2c;letter-spacing:-0.105px">Real-time Presence</div>
<div class="x" style="left:43.10px;top:311px;font:400 16px/1 'Liberation Sans',sans-serif;color:#151c2c;letter-spacing:-0.237px">My Expenses</div>
<div class="x" style="left:43.10px;top:350px;font:400 16px/1 'Liberation Sans',sans-serif;color:#151c2c;letter-spacing:-0.138px">Expense Approvals</div>
<div class="x" style="left:43.10px;top:447px;font:400 16px/1 'Liberation Sans',sans-serif;color:#151c2c;letter-spacing:-0.051px">Policy &amp; Compliance</div>
<div class="x" style="left:44.00px;top:482px;font:400 16px/1 'Liberation Sans',sans-serif;color:#151c2c;letter-spacing:-0.238px">Leave Policies</div>
<div class="x" style="left:44.00px;top:517px;font:400 16px/1 'Liberation Sans',sans-serif;color:#151c2c;letter-spacing:-0.216px">Leave Types</div>
<div class="x" style="left:44.00px;top:553px;font:400 16px/1 'Liberation Sans',sans-serif;color:#151c2c;letter-spacing:-0.034px">Holiday Maintenance</div>
<div class="x" style="left:43.10px;top:592px;font:400 16px/1 'Liberation Sans',sans-serif;color:#151c2c;letter-spacing:-0.020px">HR Configuration</div>
<div class="x" style="left:44.00px;top:627px;font:400 16px/1 'Liberation Sans',sans-serif;color:#151c2c;letter-spacing:-0.080px">Job Levels</div>
<div class="x" style="left:44.00px;top:663px;font:400 16px/1 'Liberation Sans',sans-serif;color:#151c2c;letter-spacing:0.085px">Shift Templates</div>
<div class="x" style="left:44.00px;top:698px;font:400 16px/1 'Liberation Sans',sans-serif;color:#151c2c;letter-spacing:0.040px">Organization Settings</div>
<div class="x" style="left:43.10px;top:737px;font:400 16px/1 'Liberation Sans',sans-serif;color:#151c2c;letter-spacing:-0.149px">Payroll Management</div>
<div class="x" style="left:44.00px;top:773px;font:400 16px/1 'Liberation Sans',sans-serif;color:#151c2c;letter-spacing:-0.106px">Payroll Components</div>
<div class="x" style="left:44.00px;top:808px;font:400 16px/1 'Liberation Sans',sans-serif;color:#151c2c;letter-spacing:-0.008px">Compensation Templates</div>
<div class="x" style="left:44.00px;top:843px;font:400 16px/1 'Liberation Sans',sans-serif;color:#151c2c;letter-spacing:-0.135px">Payroll Batches</div>
<div class="x" style="left:44.00px;top:878px;font:400 16px/1 'Liberation Sans',sans-serif;color:#151c2c;letter-spacing:-0.054px">13th Month Management</div>
<div class="x" style="left:43.10px;top:918px;font:400 16px/1 'Liberation Sans',sans-serif;color:#151c2c;letter-spacing:-0.081px">Learning &amp; Development</div>
<div class="x" style="left:43.10px;top:957px;font:400 16px/1 'Liberation Sans',sans-serif;color:#151c2c">Operational Controls</div>
<div class="x" style="left:44.00px;top:993px;font:400 16px/1 'Liberation Sans',sans-serif;color:#151c2c;letter-spacing:-0.167px">Pending Changes</div>
<div class="x" style="left:44.00px;top:1028px;font:400 16px/1 'Liberation Sans',sans-serif;color:#151c2c;letter-spacing:-0.028px">Team Budgets</div>
<div class="x" style="left:43.10px;top:1080px;font:400 16px/1 'Liberation Sans',sans-serif;color:#151c2c;letter-spacing:-0.103px">User Manual</div>
<div class="x" style="left:16.18px;top:275px;font:400 13.7px/1 'Liberation Sans',sans-serif;color:#555b69;letter-spacing:0.142px">Expenses</div>
<div class="x" style="left:17.07px;top:411px;font:400 13.7px/1 'Liberation Sans',sans-serif;color:#555b69;letter-spacing:0.414px">Administration</div>
<div class="x" style="left:48.57px;top:66px;font:700 21.4px/1 'Liberation Sans',sans-serif;color:#1e2f85;letter-spacing:0.619px">HRIS</div>
<div class="x" style="left:60.54px;top:1123px;font:700 16px/1 'Liberation Sans',sans-serif;color:#050b1a;letter-spacing:-0.496px">Owen Boyer</div>
<div class="x" style="left:60.25px;top:1142px;font:400 13.7px/1 'Liberation Sans',sans-serif;color:#151c2c;letter-spacing:0.276px">hr@hybrid-hris.local</div>
<div class="x" style="left:23.04px;top:1133px;font:400 16px/1 'Liberation Sans',sans-serif;color:#ffffff;letter-spacing:-0.923px">OB</div>
</aside>
<header>
<div class="abs" style="left:0px;top:0px;width:1421px;height:36px;background:#fff"></div>
<div class="abs" style="left:0px;top:36px;width:1421px;height:1px;background:#e0e0e8"></div>
<div class="abs" style="left:259px;top:0px;width:806px;height:32px;background:#ebebf1;border-radius:8px"></div>
<div class="abs" style="left:1349.5px;top:1.7px;width:90px;height:28.5px;border:1.4px solid #1a5c2a;border-radius:9.5px;background:#e9f0ea"></div>
<svg class="abs" style="left:0;top:0" width="1421" height="37" viewBox="0 0 1421 37" fill="none" stroke-linecap="round" stroke-linejoin="round">
<path d="M24.6 8.9 17.5 15.8 24.6 22.8" stroke="#44474f" stroke-width="1.6"/>
<path d="M47.5 8.9 54.5 15.8 47.5 22.8" stroke="#b9b9be" stroke-width="1.4"/>
<path d="M87.0 12.6 A7.2 7.2 0 1 0 86.3 20.0" stroke="#44474f" stroke-width="1.5"/>
<circle cx="86.9" cy="14.1" r="2.2" fill="#44474f"/>
<path d="M231.2 10.3a1.6 1.6 0 0 1 1.6-1.6h6.6a1.6 1.6 0 0 1 1.6 1.6V23.3l-4.9-3.1-4.9 3.100z" stroke="#44474f" stroke-width="1.2"/>
<circle cx="274.9" cy="16" r="6.7" fill="#1d1d1f"/>
<circle cx="274.9" cy="12.9" r="0.95" fill="#fff"/>
<path d="M274.9 15.300V19.400" stroke="#fff" stroke-width="1.5" stroke-linecap="butt"/>
<g stroke="#44474f" stroke-width="1.25">
<ellipse cx="903.7" cy="15.9" rx="4.3" ry="3.9"/>
<circle cx="902.6" cy="15.9" r="1.2" stroke-width="1.1"/>
<path d="M907.9 14.2H914.200L914.6 15.7 913.4 19.6H911.7L911.2 17.6H907.9"/>
<circle cx="939.8" cy="15.2" r="6.0"/>
<path d="M937.0 15.2h5.6M939.8 12.4v5.600M944.4 19.4 948.3 22.700"/>
<path d="M972.4 14.2H971.200a1.700 1.700 0 0 0-1.700 1.700V20.6a1.700 1.700 0 0 0 1.700 1.700h7.8a1.700 1.700 0 0 0 1.700-1.700V15.900a1.700 1.700 0 0 0-1.700-1.700H977.800"/>
<path d="M975.1 18.2V8.600M972.3 11.2 975.100 8.400 977.900 11.200"/>
</g>
<path d="M991.3 8.300V23.400" stroke="#a9a9b0" stroke-width="1.2"/>
<path d="M1187.0 8.400V23.600" stroke="#d9d9df" stroke-width="1.5"/>
<path d="M1011.1 7.000 1014.900 7.700 1016.400 9.700 1018.600 10.300 1018.900 12.600C1018.900 17.900 1016.500 21.700 1011.100 24.800 1005.700 21.700 1003.300 17.900 1003.300 12.600L1003.600 10.300 1005.800 9.700 1007.300 7.700Z" fill="#fb4f26" stroke="#fb4f26" stroke-width="0.6"/>
<path d="M1011.1 10.000 1014.000 10.900 1015.700 12.700 1014.600 16.200 1012.800 18.000 1011.100 21.600 1009.400 18.000 1007.600 16.200 1006.500 12.700 1008.200 10.900Z" fill="#fff"/>
<path d="M1008.600 13.400h1.700M1011.900 13.400h1.700M1010.200 17.100h1.800" stroke="#fb4f26" stroke-width="1.1"/>
<path d="M1044.900 8.200 1036.300 23.300H1053.500Z" fill="#9e1f63"/>
<path d="M1044.900 8.200 1036.300 23.300 1044.900 18.300Z" fill="#ff4724"/>
<path d="M1036.300 23.300H1053.500L1044.900 18.300Z" fill="#662d91"/>
<path d="M1044.900 13.600 1041.000 20.600H1048.800Z" fill="#fff"/>
<g stroke="#44474f" stroke-width="1.25">
<rect x="1155.600" y="8.900" width="14.800" height="14.200" rx="1.800"/>
<path d="M1155.600 11.700h14.800"/>
<circle cx="1162.500" cy="17.000" r="1.900" stroke-width="1.300"/>
<path d="M1164.000 18.500 1165.700 20.200" stroke-width="1.300"/>
<path d="M1208.300 21.900V10.600L1218.400 9.000V20.000"/>
<ellipse cx="1205.800" cy="22.000" rx="2.500" ry="2.100"/>
<ellipse cx="1215.900" cy="20.200" rx="2.500" ry="2.100"/>
<rect x="1233.700" y="9.300" width="14.600" height="13.600" rx="1.600"/>
<path d="M1244.200 9.300h2.500a1.600 1.600 0 0 1 1.600 1.600v10.400a1.600 1.600 0 0 1-1.600 1.600h-2.500z" fill="#44474f"/>
<path d="M1263.600 11.500V21.200a1.700 1.700 0 0 0 1.700 1.700h11.300a1.700 1.700 0 0 0 1.700-1.700V13.200a1.700 1.700 0 0 0-1.700-1.700H1263.600a1.900 1.900 0 0 1 1.900-1.900h9.000a1.900 1.900 0 0 1 1.900 1.900"/>
<path d="M1278.300 14.700h-5.000a2.200 2.200 0 0 0 0 4.400h5.000"/>
<path d="M1300.200 8.400C1301.000 12.900 1303.100 15.000 1307.600 15.800 1303.100 16.600 1301.000 18.700 1300.200 23.200 1299.400 18.700 1297.300 16.600 1292.800 15.800 1297.300 15.000 1299.400 12.900 1300.200 8.400Z"/>
<path d="M1306.500 18.800C1306.800 20.500 1307.400 21.100 1309.100 21.400 1307.400 21.700 1306.800 22.300 1306.500 24.000 1306.200 22.300 1305.600 21.700 1303.900 21.400 1305.600 21.100 1306.200 20.500 1306.500 18.800Z" fill="#44474f" stroke-width="0.800"/>
<path d="M1331.000 7.700 1337.600 10.000V15.200C1337.600 19.500 1334.800 22.400 1331.000 24.000 1327.200 22.400 1324.400 19.500 1324.400 15.200V10.000Z"/>
<path d="M1327.300 14.500A5.200 5.200 0 0 1 1334.700 14.500M1328.800 16.700A3.100 3.100 0 0 1 1333.200 16.700" stroke-width="1.200"/>
<circle cx="1331.000" cy="18.900" r="0.800" fill="#44474f" stroke="none"/>
</g>
<path d="M1408.000 9.700H1421M1408.000 15.800H1421M1408.000 21.900H1421" stroke="#1a5c2a" stroke-width="1.700" stroke-linecap="butt"/>
</svg>
<div class="x" style="left:296.62px;top:10px;font:400 14.5px/1 'Liberation Sans',sans-serif;color:#1c1c1f;letter-spacing:0.364px">localhost:3000/admin/budgets</div>
<div class="x" style="left:1357.72px;top:9px;font:400 14px/1 'Liberation Sans',sans-serif;color:#1a5c2a;letter-spacing:-0.051px">Update</div>
</header>

</body>
</html>
